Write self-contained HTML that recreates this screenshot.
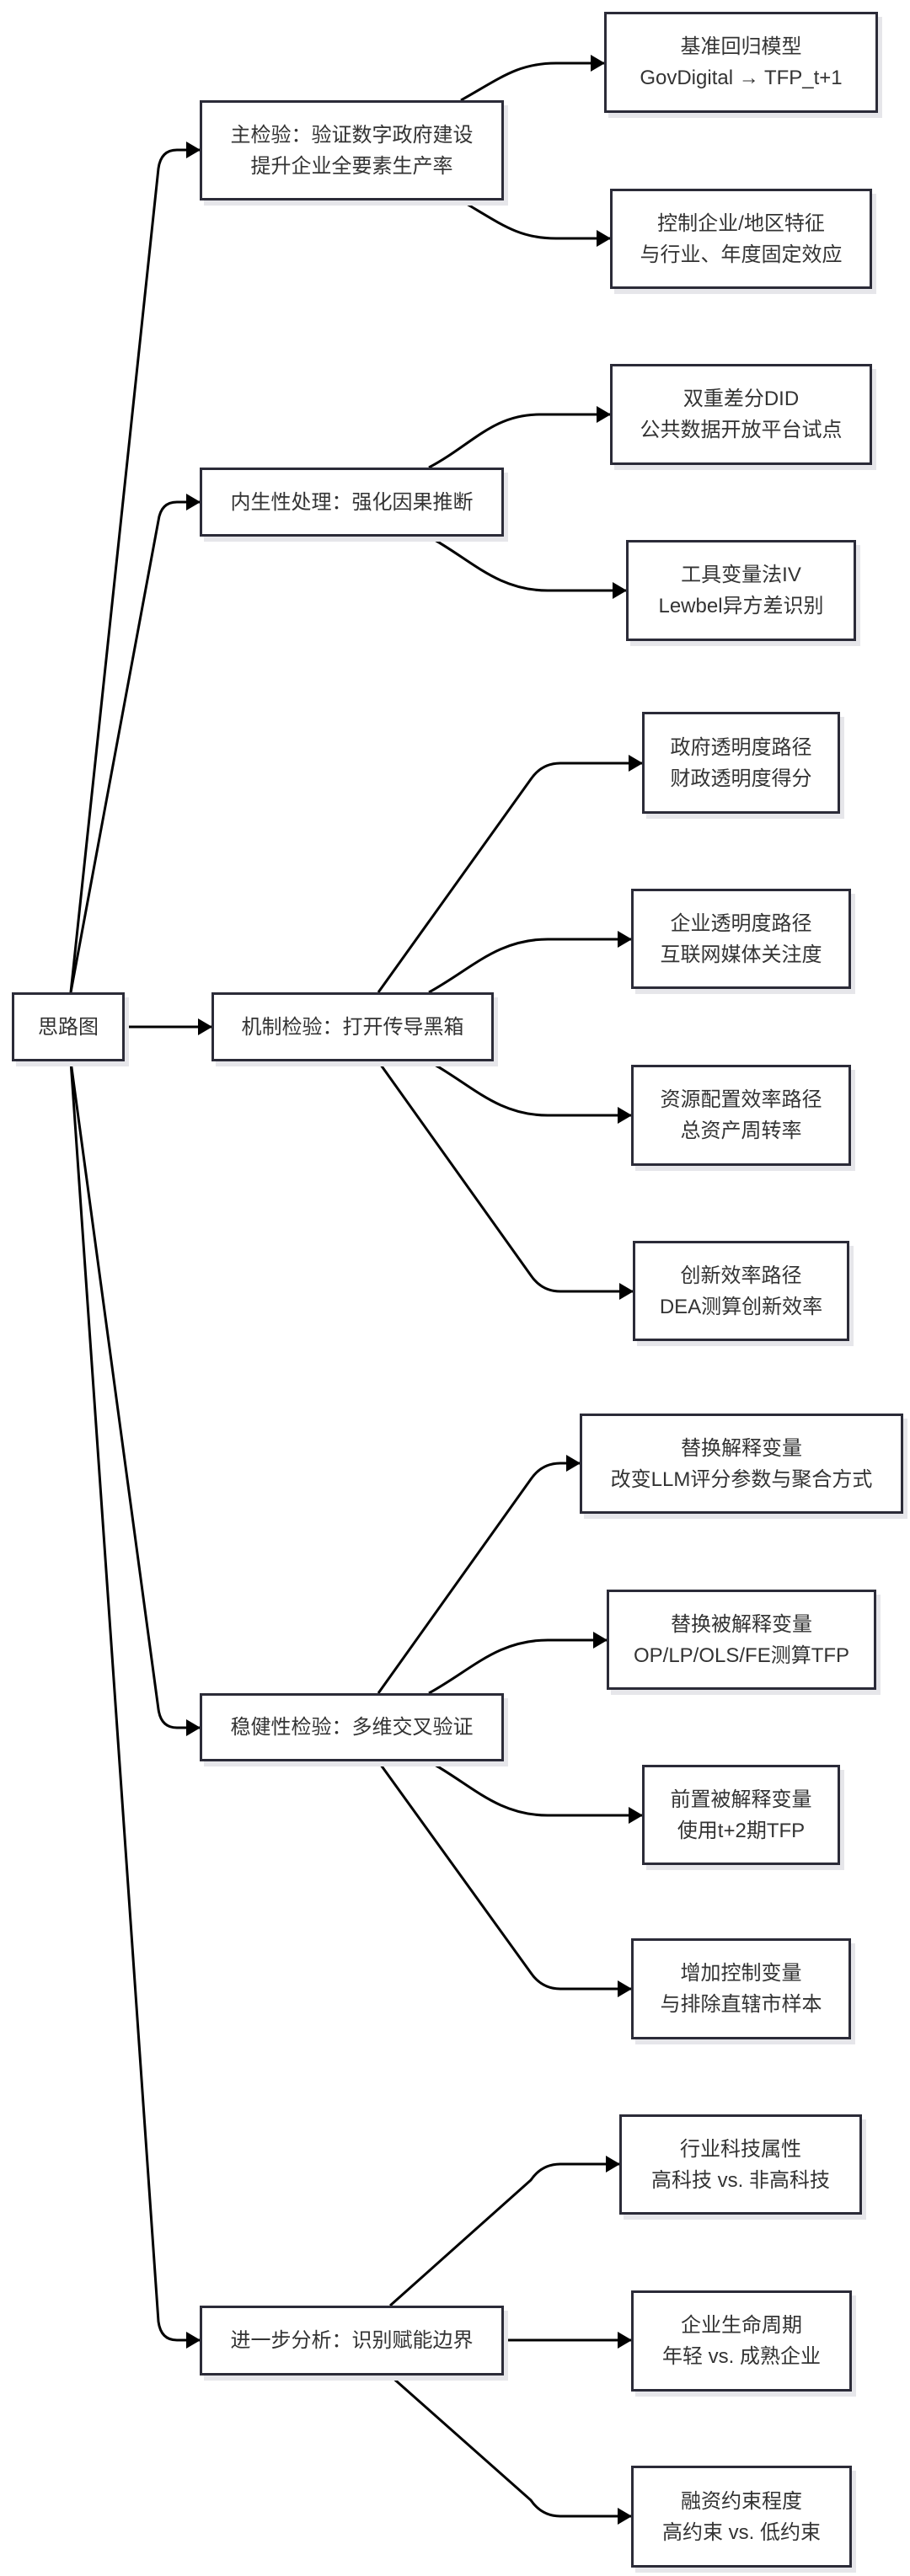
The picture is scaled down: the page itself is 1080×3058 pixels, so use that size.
<!DOCTYPE html>
<html><head><meta charset="utf-8"><style>
body{margin:0;background:#fff;}
#c{position:relative;width:1080px;height:3058px;overflow:hidden;background:#fff;}
.b{position:absolute;box-sizing:border-box;border:3px solid #2b2b38;background:#fff;display:flex;align-items:center;justify-content:center;text-align:center;font-family:"Liberation Sans","Noto Sans CJK SC",sans-serif;font-size:24px;line-height:37px;color:#333;box-shadow:5px 6px 0 #e6e6ea;}
svg{position:absolute;left:0;top:0;}
</style></head><body><div id="c">
<svg width="1080" height="3058" viewBox="0 0 1080 3058">
<defs><marker id="a" markerWidth="18" markerHeight="20" refX="16" refY="10" orient="auto" markerUnits="userSpaceOnUse"><polygon points="0,0 17,10 0,20" fill="#000"/></marker></defs>
<g fill="none" stroke="#000" stroke-width="3" marker-end="url(#a)">
<!-- root to mains -->
<path d="M84,1178 L188,200 Q191,178 210,178 L237,178"/>
<path d="M84,1178 L188,618 Q191,596 210,596 L237,596"/>
<path d="M148,1219 L251,1219"/>
<path d="M84,1260 L188,2029 Q191,2051 210,2051 L237,2051"/>
<path d="M84,1260 L188,2756 Q191,2778 210,2778 L237,2778"/>
<!-- main1 -->
<path d="M547,119 C595,92 615,75 660,75 L717,75"/>
<path d="M547,238 C595,266 615,283 660,283 L724,283"/>
<!-- main2 -->
<path d="M509,555 C560,528 585,492 640,492 L724,492"/>
<path d="M509,637 C560,665 590,701 650,701 L743,701"/>
<!-- main3 -->
<path d="M449,1178 L630,925 Q643,906 665,906 L762,906"/>
<path d="M509,1178 C560,1150 590,1115 650,1115 L749,1115"/>
<path d="M509,1260 C560,1288 590,1324 650,1324 L749,1324"/>
<path d="M449,1260 L630,1514 Q643,1533 665,1533 L751,1533"/>
<!-- main4 -->
<path d="M449,2010 L630,1756 Q643,1737 665,1737 L688,1737"/>
<path d="M509,2010 C560,1982 590,1947 650,1947 L720,1947"/>
<path d="M509,2091 C560,2119 590,2155 650,2155 L762,2155"/>
<path d="M449,2091 L630,2342 Q643,2361 665,2361 L749,2361"/>
<!-- main5 -->
<path d="M463,2737 L630,2588 Q643,2569 665,2569 L735,2569"/>
<path d="M598,2778 L749,2778"/>
<path d="M463,2820 L630,2968 Q643,2987 665,2987 L749,2987"/>
</g></svg>
<div class="b" style="left:14px;top:1178px;width:134px;height:82px;">思路图</div>
<div class="b" style="left:237px;top:119px;width:361px;height:119px;">主检验：验证数字政府建设<br>提升企业全要素生产率</div>
<div class="b" style="left:237px;top:555px;width:361px;height:82px;">内生性处理：强化因果推断</div>
<div class="b" style="left:251px;top:1178px;width:335px;height:82px;">机制检验：打开传导黑箱</div>
<div class="b" style="left:237px;top:2010px;width:361px;height:81px;">稳健性检验：多维交叉验证</div>
<div class="b" style="left:237px;top:2737px;width:361px;height:83px;">进一步分析：识别赋能边界</div>
<div class="b" style="left:717px;top:14px;width:325px;height:120px;">基准回归模型<br>GovDigital → TFP_t+1</div>
<div class="b" style="left:724px;top:224px;width:311px;height:119px;">控制企业/地区特征<br>与行业、年度固定效应</div>
<div class="b" style="left:724px;top:432px;width:311px;height:120px;">双重差分DID<br>公共数据开放平台试点</div>
<div class="b" style="left:743px;top:641px;width:273px;height:120px;">工具变量法IV<br>Lewbel异方差识别</div>
<div class="b" style="left:762px;top:845px;width:235px;height:121px;">政府透明度路径<br>财政透明度得分</div>
<div class="b" style="left:749px;top:1055px;width:261px;height:119px;">企业透明度路径<br>互联网媒体关注度</div>
<div class="b" style="left:749px;top:1264px;width:261px;height:120px;">资源配置效率路径<br>总资产周转率</div>
<div class="b" style="left:751px;top:1473px;width:257px;height:119px;">创新效率路径<br>DEA测算创新效率</div>
<div class="b" style="left:688px;top:1678px;width:384px;height:119px;">替换解释变量<br>改变LLM评分参数与聚合方式</div>
<div class="b" style="left:720px;top:1887px;width:320px;height:119px;">替换被解释变量<br>OP/LP/OLS/FE测算TFP</div>
<div class="b" style="left:762px;top:2095px;width:235px;height:119px;">前置被解释变量<br>使用t+2期TFP</div>
<div class="b" style="left:749px;top:2301px;width:261px;height:120px;">增加控制变量<br>与排除直辖市样本</div>
<div class="b" style="left:735px;top:2510px;width:288px;height:119px;">行业科技属性<br>高科技 vs. 非高科技</div>
<div class="b" style="left:749px;top:2719px;width:262px;height:120px;">企业生命周期<br>年轻 vs. 成熟企业</div>
<div class="b" style="left:749px;top:2927px;width:262px;height:121px;">融资约束程度<br>高约束 vs. 低约束</div>
</div></body></html>
